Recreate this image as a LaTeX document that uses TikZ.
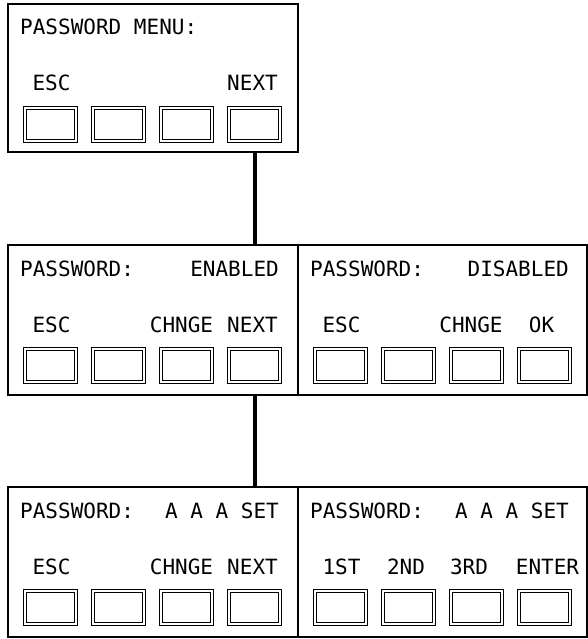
\documentclass[tikz,border=0pt]{standalone}
\usepackage{fontspec}
\setmonofont{DejaVu Sans Mono}
\begin{document}
\begin{tikzpicture}[x=1pt,y=-1pt,
  font=\fontsize{21}{21}\selectfont\ttfamily,
  panel/.style={draw, line width=2pt, anchor=north west, minimum height=150pt, inner sep=0pt, outer sep=0pt},
  btn/.style={draw, double, double distance=1.6pt, line width=1.4pt, anchor=north west,
              minimum width=51pt, minimum height=33pt, inner sep=0pt, outer sep=0pt},
  txt/.style={inner sep=0pt, anchor=base west},
  rtxt/.style={inner sep=0pt, anchor=base east},
  lbl/.style={inner sep=0pt, anchor=base},
  conn/.style={line width=4pt}]
\useasboundingbox (0,0) rectangle (588,639);

% panels
\node[panel, minimum width=290pt, minimum height=148pt] (menu) at (8,4) {};
\node[panel, minimum width=290pt] (enabled) at (8,245) {};
\node[panel, minimum width=289pt] (disabled) at (298,245) {};
\node[panel, minimum width=290pt] (set) at (8,487) {};
\node[panel, minimum width=289pt] (enter) at (298,487) {};

% buttons
\foreach \p/\x/\y in {menu/8/4, enabled/8/245, disabled/298/245, set/8/487, enter/298/487}{
  \foreach \k in {0,...,3}
    \node[btn] (\p-b\k) at ({\x+17+68*\k},{\y+104}) {};
}

% titles
\node[txt] (t1) at (20,35) {PASSWORD MENU:};
\node[txt] (t2) at (20,276) {PASSWORD:};
\node[rtxt] (t2r) at (279,276) {ENABLED};
\node[txt] (t3) at (310,276) {PASSWORD:};
\node[rtxt] (t3r) at (569,276) {DISABLED};
\node[txt] (t4) at (20,518) {PASSWORD:};
\node[rtxt] (t4r) at (279,518) {A A A SET};
\node[txt] (t5) at (310,518) {PASSWORD:};
\node[rtxt] (t5r) at (569,518) {A A A SET};

% button labels
\node[lbl] (l1a) at (51.5,91) {ESC};
\node[lbl] (l1d) at (252.5,91) {NEXT};

\node[lbl] (l2a) at (51.5,332) {ESC};
\node[lbl] (l2c) at (181.5,332) {CHNGE};
\node[lbl] (l2d) at (252.5,332) {NEXT};

\node[lbl] (l3a) at (341.5,332) {ESC};
\node[lbl] (l3c) at (471,332) {CHNGE};
\node[lbl] (l3d) at (541.5,332) {OK};

\node[lbl] (l4a) at (51.5,574) {ESC};
\node[lbl] (l4c) at (181.5,574) {CHNGE};
\node[lbl] (l4d) at (252.5,574) {NEXT};

\node[lbl] (l5a) at (341.5,574) {1ST};
\node[lbl] (l5b) at (406,574) {2ND};
\node[lbl] (l5c) at (469,574) {3RD};
\node[lbl] (l5d) at (547.5,574) {ENTER};

% connectors
\draw[conn] (menu.south -| menu-b3) -- (enabled.north -| menu-b3);
\draw[conn] (enabled.south -| enabled-b3) -- (set.north -| enabled-b3);
\end{tikzpicture}
\end{document}
